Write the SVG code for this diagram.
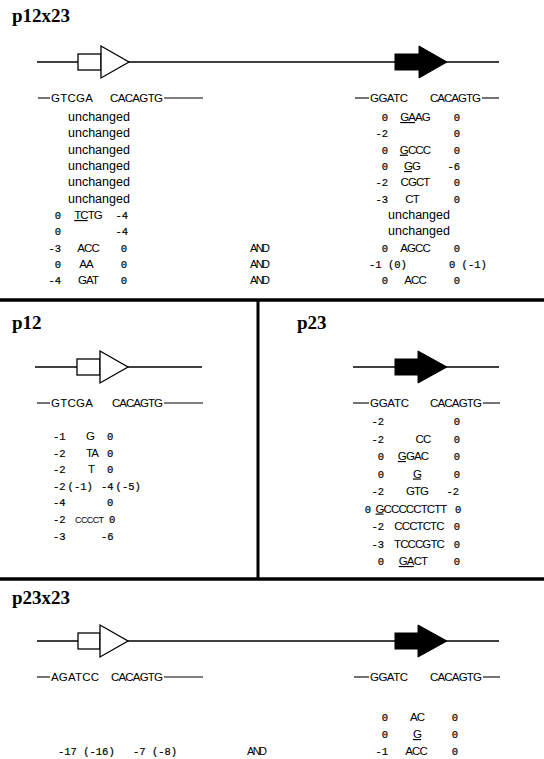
<svg xmlns="http://www.w3.org/2000/svg" width="544" height="759" viewBox="0 0 544 759">
<style>
.t{font-family:"Liberation Serif","Times New Roman",serif;font-weight:bold;font-size:19px;fill:#000}
.s{font-family:"Liberation Sans",Arial,sans-serif;font-size:11.5px;letter-spacing:-0.9px;fill:#000}
.h{font-family:"Liberation Sans",Arial,sans-serif;font-size:11.5px;fill:#000}
.n{font-family:"Liberation Mono","Courier New",monospace;font-size:10.5px;fill:#000;stroke:#000;stroke-width:0.2}
.u{font-family:"Liberation Sans",Arial,sans-serif;font-size:12.5px;fill:#000}
.a{font-family:"Liberation Sans",Arial,sans-serif;font-size:11px;letter-spacing:-1.6px;fill:#000}
.ul{text-decoration:underline}
.ln{stroke:#000;stroke-width:1.3;fill:none}
.dl{stroke:#000;stroke-width:1.1;fill:none}
.sep{stroke:#000;stroke-width:3.5;fill:none}
.oa{fill:#fff;stroke:#000;stroke-width:1.3}
.fa{fill:#000;stroke:#000;stroke-width:1}
.e{text-anchor:end}
.m{text-anchor:middle}
</style>
<rect width="544" height="759" fill="#fff"/>

<g id="separators">
<line class="sep" x1="0" y1="300" x2="544" y2="300"/>
<line class="sep" x1="258" y1="300" x2="258" y2="579" style="stroke-width:3"/>
<line class="sep" x1="0" y1="579" x2="544" y2="579"/>
</g>

<g id="p12x23">
<text class="t" x="12" y="22">p12x23</text>
<g id="p12x23-gene">
<line class="ln" x1="37" y1="62" x2="499" y2="62"/>
<rect class="oa" x="78" y="54" width="23" height="16"/>
<polygon class="oa" points="101,46 129,62 101,78"/>
<rect class="fa" x="395" y="54" width="24" height="16"/>
<polygon class="fa" points="419,46 447,62 419,78"/>
</g>
<g id="p12x23-seq">
<line class="dl" x1="38" y1="98" x2="50" y2="98"/>
<text class="h" x="51" y="102" textLength="42">GTCGA</text>
<text class="h" x="110" y="102" textLength="53">CACAGTG</text>
<line class="dl" x1="164" y1="98" x2="203" y2="98"/>
<line class="dl" x1="355" y1="98" x2="369" y2="98"/>
<text class="h" x="370" y="102" textLength="38">GGATC</text>
<text class="h" x="430" y="102" textLength="51">CACAGTG</text>
<line class="dl" x1="482" y1="98" x2="499" y2="98"/>
</g>
<g id="p12x23-left">
<text class="u" x="68" y="121">unchanged</text>
<text class="u" x="68" y="137.3">unchanged</text>
<text class="u" x="68" y="153.7">unchanged</text>
<text class="u" x="68" y="170">unchanged</text>
<text class="u" x="68" y="186.3">unchanged</text>
<text class="u" x="68" y="202.7">unchanged</text>
<text class="n e" x="61" y="219">0</text><text class="s m" x="88" y="219"><tspan class="ul">TC</tspan>TG</text><text class="n e" x="128" y="219">-4</text>
<text class="n e" x="61" y="235.3">0</text><text class="n e" x="128" y="235.3">-4</text>
<text class="n e" x="61" y="251.7">-3</text><text class="s m" x="88" y="251.7">ACC</text><text class="n e" x="127" y="251.7">0</text><text class="a" x="250" y="251.7">AND</text>
<text class="n e" x="61" y="268">0</text><text class="s m" x="86" y="268">AA</text><text class="n e" x="127" y="268">0</text><text class="a" x="250" y="268">AND</text>
<text class="n e" x="61" y="284.3">-4</text><text class="s m" x="88" y="284.3">GAT</text><text class="n e" x="127" y="284.3">0</text><text class="a" x="250" y="284.3">AND</text>
</g>
<g id="p12x23-right">
<text class="n e" x="388" y="121">0</text><text class="s m" x="415" y="121"><tspan class="ul">GA</tspan>AG</text><text class="n e" x="460" y="121">0</text>
<text class="n e" x="388" y="137.3">-2</text><text class="n e" x="460" y="137.3">0</text>
<text class="n e" x="388" y="153.7">0</text><text class="s m" x="415" y="153.7"><tspan class="ul">G</tspan>CCC</text><text class="n e" x="460" y="153.7">0</text>
<text class="n e" x="388" y="170">0</text><text class="s m" x="412" y="170"><tspan class="ul">G</tspan>G</text><text class="n e" x="460" y="170">-6</text>
<text class="n e" x="388" y="186.3">-2</text><text class="s m" x="415" y="186.3">CGCT</text><text class="n e" x="460" y="186.3">0</text>
<text class="n e" x="388" y="202.7">-3</text><text class="s m" x="412" y="202.7">CT</text><text class="n e" x="460" y="202.7">0</text>
<text class="u m" x="419" y="219">unchanged</text>
<text class="u m" x="419" y="235.3">unchanged</text>
<text class="n e" x="388" y="251.7">0</text><text class="s m" x="415" y="251.7">AGCC</text><text class="n e" x="460" y="251.7">0</text>
<text class="n" x="369" y="268">-1 (0)</text><text class="n" x="449" y="268">0 (-1)</text>
<text class="n e" x="388" y="284.3">0</text><text class="s m" x="415" y="284.3">ACC</text><text class="n e" x="460" y="284.3">0</text>
</g>
</g>

<g id="p12">
<text class="t" x="12" y="329">p12</text>
<g id="p12-gene">
<line class="ln" x1="35" y1="367" x2="202" y2="367"/>
<rect class="oa" x="77" y="359" width="23" height="16"/>
<polygon class="oa" points="100,351 128,367 100,383"/>
</g>
<g id="p12-seq">
<line class="dl" x1="37" y1="403" x2="50" y2="403"/>
<text class="h" x="51" y="407" textLength="42">GTCGA</text>
<text class="h" x="112" y="407" textLength="51">CACAGTG</text>
<line class="dl" x1="164" y1="403" x2="203" y2="403"/>
</g>
<g id="p12-rows">
<text class="n" x="53" y="440">-1</text><text class="s m" x="90" y="440">G</text><text class="n" x="107" y="440">0</text>
<text class="n" x="53" y="456.6">-2</text><text class="s m" x="92" y="456.6">TA</text><text class="n" x="107" y="456.6">0</text>
<text class="n" x="53" y="473.2">-2</text><text class="s m" x="91" y="473.2">T</text><text class="n" x="107" y="473.2">0</text>
<text class="n" x="53" y="489.8">-2<tspan dx="2">(-1)</tspan></text><text class="n" x="101" y="489.8">-4<tspan dx="2">(-5)</tspan></text>
<text class="n" x="53" y="506.4">-4</text><text class="n" x="107" y="506.4">0</text>
<text class="n" x="53" y="523">-2</text><text class="h" x="75" y="523" style="font-size:9px;letter-spacing:-0.6px">CCCCT</text><text class="n" x="109" y="523">0</text>
<text class="n" x="53" y="539.6">-3</text><text class="n" x="101" y="539.6">-6</text>
</g>
</g>

<g id="p23">
<text class="t" x="297" y="329">p23</text>
<g id="p23-gene">
<line class="ln" x1="353" y1="367" x2="499" y2="367"/>
<rect class="fa" x="395" y="359" width="23" height="16"/>
<polygon class="fa" points="418,351 447,367 418,383"/>
</g>
<g id="p23-seq">
<line class="dl" x1="353" y1="403" x2="369" y2="403"/>
<text class="h" x="370" y="407" textLength="39">GGATC</text>
<text class="h" x="430" y="407" textLength="52">CACAGTG</text>
<line class="dl" x1="483" y1="403" x2="500" y2="403"/>
</g>
<g id="p23-rows">
<text class="n e" x="384" y="425">-2</text><text class="n e" x="460" y="425">0</text>
<text class="n e" x="384" y="442.5">-2</text><text class="s m" x="423" y="442.5">CC</text><text class="n e" x="460" y="442.5">0</text>
<text class="n e" x="384" y="460">0</text><text class="s m" x="413" y="460"><tspan class="ul">G</tspan>GAC</text><text class="n e" x="460" y="460">0</text>
<text class="n e" x="384" y="477.5">0</text><text class="s m" x="417" y="477.5"><tspan class="ul">G</tspan></text><text class="n e" x="460" y="477.5">0</text>
<text class="n e" x="384" y="495">-2</text><text class="s m" x="417" y="495">GTG</text><text class="n e" x="459" y="495">-2</text>
<text class="n e" x="371" y="512.5">0</text><text class="s m" x="411" y="512.5"><tspan class="ul">G</tspan>CCCCCTCTT</text><text class="n" x="455" y="512.5">0</text>
<text class="n e" x="384" y="530">-2</text><text class="s m" x="419" y="530">CCCTCTC</text><text class="n e" x="460" y="530">0</text>
<text class="n e" x="384" y="547.5">-3</text><text class="s m" x="419" y="547.5">TCCCGTC</text><text class="n e" x="460" y="547.5">0</text>
<text class="n e" x="384" y="565">0</text><text class="s m" x="413" y="565"><tspan class="ul">GA</tspan>CT</text><text class="n e" x="460" y="565">0</text>
</g>
</g>

<g id="p23x23">
<text class="t" x="12" y="604">p23x23</text>
<g id="p23x23-gene">
<line class="ln" x1="37" y1="641" x2="499" y2="641"/>
<rect class="oa" x="78" y="633" width="22" height="16"/>
<polygon class="oa" points="100,625 128,641 100,657"/>
<rect class="fa" x="395" y="633" width="23" height="16"/>
<polygon class="fa" points="418,625 447,641 418,657"/>
</g>
<g id="p23x23-seq">
<line class="dl" x1="37" y1="677" x2="50" y2="677"/>
<text class="h" x="51" y="681" textLength="48">AGATCC</text>
<text class="h" x="111" y="681" textLength="52">CACAGTG</text>
<line class="dl" x1="164" y1="677" x2="203" y2="677"/>
<line class="dl" x1="354" y1="677" x2="369" y2="677"/>
<text class="h" x="370" y="681" textLength="38">GGATC</text>
<text class="h" x="430" y="681" textLength="52">CACAGTG</text>
<line class="dl" x1="483" y1="677" x2="500" y2="677"/>
</g>
<g id="p23x23-rows">
<text class="n e" x="388" y="721">0</text><text class="s m" x="417" y="721">AC</text><text class="n e" x="458" y="721">0</text>
<text class="n e" x="388" y="738">0</text><text class="s m" x="417" y="738"><tspan class="ul">G</tspan></text><text class="n e" x="458" y="738">0</text>
<text class="n" x="58" y="755">-17 (-16)</text><text class="n" x="133" y="755">-7 (-8)</text><text class="a" x="247" y="755">AND</text>
<text class="n e" x="388" y="755">-1</text><text class="s m" x="416" y="755">ACC</text><text class="n e" x="458" y="755">0</text>
</g>
</g>
</svg>
